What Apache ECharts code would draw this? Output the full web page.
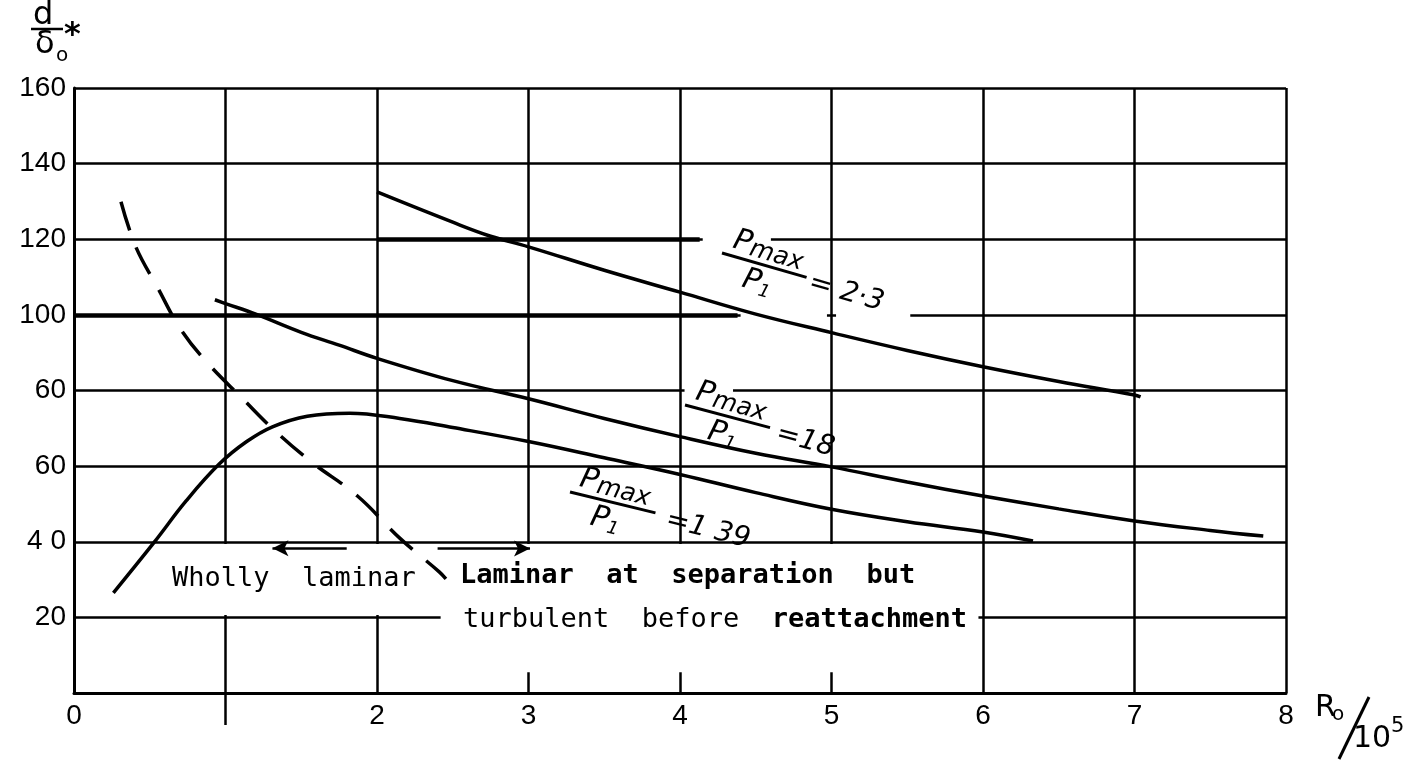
<!DOCTYPE html>
<html>
<head>
<meta charset="utf-8">
<style>
  html, body { margin: 0; padding: 0; background: #fff; }
  #chart { width: 1419px; height: 764px; }
</style>
<script src="https://cdn.jsdelivr.net/npm/echarts@6/dist/echarts.min.js"></script>
</head>
<body>
<div id="chart"></div>
<script>
// tick labels as printed on the original figure
const xTicks = ['0', '', '2', '3', '4', '5', '6', '7', '8']
const yTicks = ['', '20', '4 0', '60', '60', '100', '120', '140', '160']

// pmax/p1 = 2.3
const ratio23X = [2.0, 2.5, 2.75, 3.0, 3.5, 4.0, 4.5, 5.0, 5.5, 6.0, 6.5, 7.0, 7.04]
const ratio23Y = [132.5, 124.5, 120.8, 118, 111.8, 106, 100.2, 95.3, 90.6, 86.3, 82.4, 78.8, 78.3]

// pmax/p1 = 1.8
const ratio18X = [0.93, 1.0, 1.2, 1.5, 1.75, 2.0, 2.5, 3.0, 3.5, 4.0, 4.5, 5.0, 5.5, 6.0, 6.5, 7.0, 7.5, 7.85]
const ratio18Y = [104, 103, 100.2, 95.4, 92, 88.5, 82.6, 77.8, 72.6, 67.8, 63.4, 59.8, 55.8, 52.1, 48.7, 45.5, 43, 41.5]

// pmax/p1 = 1.39
const ratio139X = [0.26, 0.53, 0.74, 0.96, 1.14, 1.31, 1.54, 1.82, 2.15, 2.5, 3.0, 3.5, 4.0, 4.5, 5.0, 5.5, 6.0, 6.33]
const ratio139Y = [26.5, 39.9, 50.8, 60.6, 66.5, 70.4, 73.2, 74, 72.6, 70.2, 66.5, 62.2, 57.8, 53, 48.6, 45.3, 42.6, 40.2]

// dashed boundary: wholly laminar / laminar at separation
const boundaryX = [0.31, 0.409, 0.551, 0.703, 0.881, 1.119, 1.314, 1.564, 1.871, 2.152, 2.409, 2.455]
const boundaryY = [129.9, 117.9, 107.3, 96.3, 87.3, 77.6, 69.8, 61.2, 52.1, 40.9, 32.1, 30.2]

// arrows under the 40 line
const arrowLeft = [[1.80, 38.3], [1.31, 38.3]]
const arrowRight = [[2.40, 38.2], [3.01, 38.2]]

const ratioLabels = ['= 2·3', '=18', '=1 39']

const pairs = (xs, ys) => xs.map((x, i) => [x, ys[i]])

const chart = echarts.init(document.getElementById('chart'))

const curveStyle = {
  type: 'line',
  smooth: 0.4,
  showSymbol: false,
  symbol: 'none',
  silent: true,
  lineStyle: { color: '#000', width: 3.5 },
  z: 3
}

function fraction(x, y, rot, value, valueX, pmaxX, p1X) {
  return {
    type: 'group',
    x: x,
    y: y,
    rotation: rot,
    z: 100,
    children: [
      {
        type: 'line',
        z: 100,
        shape: { x1: 0, y1: 0, x2: 88, y2: 0 },
        style: { stroke: '#000', lineWidth: 3 }
      },
      {
        type: 'text',
        z: 100,
        x: pmaxX,
        y: -16,
        style: {
          text: 'P{s|max}',
          align: 'center',
          verticalAlign: 'middle',
          font: 'italic 30px "DejaVu Sans"',
          fill: '#000',
          rich: {
            s: { font: 'italic 25px "DejaVu Sans"', fill: '#000', padding: [8, 0, 0, 0] }
          }
        }
      },
      {
        type: 'text',
        z: 100,
        x: p1X,
        y: 19,
        style: {
          text: 'P{s|1}',
          align: 'center',
          verticalAlign: 'middle',
          font: 'italic 30px "DejaVu Sans"',
          fill: '#000',
          rich: {
            s: { font: 'italic 18px "DejaVu Sans"', fill: '#000', padding: [14, 0, 0, 0] }
          }
        }
      },
      {
        type: 'text',
        z: 100,
        x: valueX,
        y: 4,
        style: {
          text: value,
          align: 'left',
          verticalAlign: 'middle',
          font: 'italic 28px "DejaVu Sans"',
          fill: '#000'
        }
      }
    ]
  }
}

const lettering = (left, top, text, weight) => ({
  type: 'text',
  left: left,
  top: top,
  z: 100,
  style: {
    text: text,
    font: (weight || 'normal') + ' 27px "DejaVu Sans Mono"',
    fill: '#000',
    rich: {
      b: { font: 'bold 27px "DejaVu Sans Mono"', fill: '#000' }
    }
  }
})

const option = {
  animation: false,
  backgroundColor: '#fff',
  grid: {
    left: 74,
    right: 133,
    top: 88,
    bottom: 71,
    containLabel: false
  },
  xAxis: {
    type: 'value',
    min: 0,
    max: 8,
    interval: 1,
    axisLine: { show: true, lineStyle: { color: '#000', width: 3 } },
    axisTick: { show: false },
    splitLine: { show: true, lineStyle: { color: '#000', width: 2.5 } },
    axisLabel: {
      margin: 9,
      color: '#000',
      fontFamily: 'Liberation Sans',
      fontSize: 28,
      formatter: v => xTicks[Math.round(v)]
    }
  },
  yAxis: {
    type: 'value',
    min: 0,
    max: 160,
    interval: 20,
    axisLine: { show: true, lineStyle: { color: '#000', width: 3 } },
    axisTick: { show: false },
    splitLine: { show: true, lineStyle: { color: '#000', width: 2.5 } },
    axisLabel: {
      margin: 8,
      color: '#000',
      fontFamily: 'Liberation Sans',
      fontSize: 28,
      formatter: v => yTicks[Math.round(v / 20)]
    }
  },
  series: [
    Object.assign({}, curveStyle, {
      name: '2.3',
      data: pairs(ratio23X, ratio23Y),
      // white patches where the printed grid is broken by the lettering
      markArea: {
        silent: true,
        itemStyle: { color: '#fff', borderWidth: 0 },
        label: { show: false },
        data: [
          [{ coord: [0.03, 20.6] }, { coord: [5.97, 39.4] }],
          [{ coord: [2.42, 5.5] }, { coord: [5.97, 20.6] }],
          [{ coord: [4.15, 119] }, { coord: [4.6, 121] }],
          [{ coord: [4.4, 99] }, { coord: [4.97, 101] }],
          [{ coord: [5.03, 99] }, { coord: [5.52, 101] }],
          [{ coord: [4.03, 79] }, { coord: [4.35, 81] }]
        ]
      }
    }),
    Object.assign({}, curveStyle, {
      name: '1.8',
      data: pairs(ratio18X, ratio18Y),
      // heavier printed rules at 100 and 120
      markLine: {
        silent: true,
        symbol: 'none',
        label: { show: false },
        lineStyle: { color: '#000', width: 4.5, type: 'solid' },
        data: [
          [{ coord: [0, 100] }, { coord: [4.38, 100] }],
          [{ coord: [2, 120] }, { coord: [4.13, 120] }]
        ]
      }
    }),
    Object.assign({}, curveStyle, {
      name: '1.39',
      data: pairs(ratio139X, ratio139Y)
    }),
    Object.assign({}, curveStyle, {
      name: 'boundary',
      data: pairs(boundaryX, boundaryY),
      lineStyle: { color: '#000', width: 3.5, type: [30, 18] },
      markLine: {
        silent: true,
        symbol: ['none', 'arrow'],
        symbolSize: [12, 16],
        label: { show: false },
        lineStyle: { color: '#000', width: 2.5, type: 'solid' },
        data: [
          [{ coord: arrowLeft[0] }, { coord: arrowLeft[1] }],
          [{ coord: arrowRight[0] }, { coord: arrowRight[1] }]
        ]
      }
    })
  ],
  graphic: [
    // d / delta0*
    { type: 'text', z: 100, left: 33, top: 0, style: { text: 'd', font: '32px "DejaVu Sans"', fill: '#000' } },
    { type: 'line', z: 100, shape: { x1: 31, y1: 29, x2: 63, y2: 29 }, style: { stroke: '#000', lineWidth: 2.5 } },
    { type: 'text', z: 100, left: 35, top: 29, style: { text: 'δ', font: '32px "DejaVu Sans"', fill: '#000' } },
    { type: 'text', z: 100, left: 56, top: 46, style: { text: 'o', font: '20px "DejaVu Sans"', fill: '#000' } },
    { type: 'text', z: 100, left: 64, top: 20, style: { text: '*', font: 'bold 32px "DejaVu Sans"', fill: '#000' } },

    // R0 / 10^5
    { type: 'text', z: 100, left: 1315, top: 693, style: { text: 'R', font: '30px "DejaVu Sans"', fill: '#000' } },
    { type: 'text', z: 100, left: 1332, top: 705, style: { text: 'o', font: '20px "DejaVu Sans"', fill: '#000' } },
    { type: 'line', z: 100, shape: { x1: 1339, y1: 759, x2: 1369, y2: 697 }, style: { stroke: '#000', lineWidth: 3 } },
    { type: 'text', z: 100, left: 1353, top: 724, style: { text: '10', font: '30px "DejaVu Sans"', fill: '#000' } },
    { type: 'text', z: 100, left: 1391, top: 716, style: { text: '5', font: '21px "DejaVu Sans"', fill: '#000' } },

    // pmax / p1 labels
    fraction(722, 253, -0.28, ratioLabels[0], 92, 44, 42),
    fraction(685, 405, -0.26, ratioLabels[1], 96, 44, 44),
    fraction(570, 492, -0.24, ratioLabels[2], 100, 43, 41),

    // regime lettering
    lettering(172, 565, 'Wholly  laminar'),
    lettering(460, 562, 'Laminar  at  separation  but', 'bold'),
    lettering(463, 606, 'turbulent  before  {b|reattachment}')
  ]
}

chart.setOption(option)

// the x = 1 rule runs on through the axis
const p1Axis = chart.convertToPixel({ gridIndex: 0 }, [1, 0])
chart.setOption({
  graphic: option.graphic.concat([
    {
      type: 'line',
      z: 100,
      shape: { x1: p1Axis[0], y1: p1Axis[1], x2: p1Axis[0], y2: p1Axis[1] + 32 },
      style: { stroke: '#000', lineWidth: 2.5 }
    }
  ])
})
</script>
</body>
</html>
